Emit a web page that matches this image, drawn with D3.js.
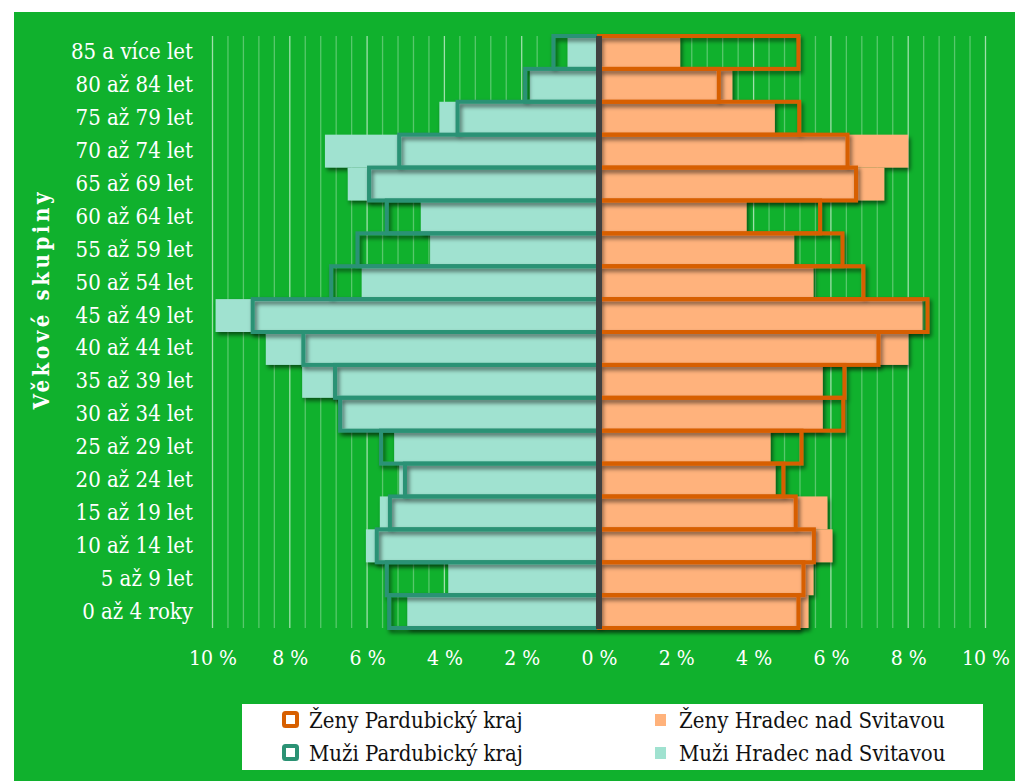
<!DOCTYPE html>
<html><head><meta charset="utf-8">
<script src="https://cdn.jsdelivr.net/npm/d3@7"></script>
<style>
body{margin:0;background:#fff}
svg{display:block}
text{font-family:"DejaVu Serif Condensed","DejaVu Serif",serif;font-stretch:condensed}
</style>
</head><body><svg id="c" width="1015" height="781"></svg>
<script>
const categories = ["85 a více let","80 až 84 let","75 až 79 let","70 až 74 let","65 až 69 let","60 až 64 let","55 až 59 let","50 až 54 let","45 až 49 let","40 až 44 let","35 až 39 let","30 až 34 let","25 až 29 let","20 až 24 let","15 až 19 let","10 až 14 let","5 až 9 let","0 až 4 roky"];
// Muži Pardubický kraj (outline)
const menPardubice   = [1.18,1.91,3.66,5.17,5.95,5.49,6.25,6.93,8.96,7.65,6.83,6.70,5.64,5.02,5.41,5.75,5.49,5.43];
// Ženy Pardubický kraj (outline)
const womenPardubice = [5.16,3.10,5.18,6.43,6.65,5.72,6.30,6.84,8.50,7.23,6.35,6.32,5.24,4.77,5.09,5.56,5.29,5.16];
// Muži Hradec nad Svitavou (fill)
const menHradec      = [0.81,1.79,4.13,7.09,6.50,4.61,4.37,6.14,9.92,8.62,7.68,6.65,5.30,5.17,5.67,6.03,3.90,4.96];
// Ženy Hradec nad Svitavou (fill)
const womenHradec    = [2.10,3.45,4.55,8.00,7.38,3.82,5.05,5.55,8.37,8.00,5.79,5.79,4.44,4.57,5.91,6.04,5.55,5.42];
const tickValues = [-10,-8,-6,-4,-2,0,2,4,6,8,10];
const legendLabels = ["Ženy Pardubický kraj","Muži Pardubický kraj","Ženy Hradec nad Svitavou","Muži Hradec nad Svitavou"];
const axisTitle = "Věkové skupiny";

const C = {bg:"#10B12D", wOut:"#D75F00", mOut:"#2B9274", wFill:"#FFB27B", mFill:"#A0E2D0", axis:"#404040"};
const FONT = '"DejaVu Serif Condensed","DejaVu Serif",serif';

const svg = d3.select("#c");
const defs = svg.append("defs");
const f = defs.append("filter").attr("id","sh").attr("x","-10%").attr("y","-30%").attr("width","130%").attr("height","180%");
f.append("feDropShadow").attr("dx",2).attr("dy",3).attr("stdDeviation",2).attr("flood-color","#000").attr("flood-opacity",0.55);

svg.append("rect").attr("x",14).attr("y",12).attr("width",1001).attr("height",769).attr("fill",C.bg);

const x = d3.scaleLinear().domain([-10,10]).range([212.5,985.5]);
const y = d3.scaleBand().domain(categories).range([36,628]).padding(0);

// grid
const minor = d3.range(-25,26).map(i=>i*0.4);
svg.append("g").selectAll("line").data(minor).join("line")
  .attr("x1",d=>x(d)).attr("x2",d=>x(d)).attr("y1",36).attr("y2",628)
  .attr("stroke","#fff").attr("stroke-width",1.3)
  .attr("stroke-opacity",d=>Math.abs(Math.round(d*10)%20)===0?0.6:0.3);

const rows = categories.map((c,i)=>({c,mP:menPardubice[i],wP:womenPardubice[i],mH:menHradec[i],wH:womenHradec[i]}));

// fill bars (Hradec)
const gF = svg.append("g").attr("filter","url(#sh)");
gF.selectAll(".mh").data(rows).join("rect").attr("class","mh")
  .attr("x",d=>x(-d.mH)).attr("width",d=>x(0)-x(-d.mH))
  .attr("y",d=>y(d.c)).attr("height",y.bandwidth()).attr("fill",C.mFill);
gF.selectAll(".wh").data(rows).join("rect").attr("class","wh")
  .attr("x",x(0)).attr("width",d=>x(d.wH)-x(0))
  .attr("y",d=>y(d.c)).attr("height",y.bandwidth()).attr("fill",C.wFill);

// outline bars (Pardubický kraj)
const gO = svg.append("g").attr("filter","url(#sh)");
gO.selectAll(".mp").data(rows).join("rect").attr("class","mp")
  .attr("x",d=>x(-d.mP)).attr("width",d=>x(0)-x(-d.mP))
  .attr("y",d=>y(d.c)).attr("height",y.bandwidth())
  .attr("fill","none").attr("stroke",C.mOut).attr("stroke-width",4);
gO.selectAll(".wp").data(rows).join("rect").attr("class","wp")
  .attr("x",x(0)).attr("width",d=>x(d.wP)-x(0))
  .attr("y",d=>y(d.c)).attr("height",y.bandwidth())
  .attr("fill","none").attr("stroke",C.wOut).attr("stroke-width",4);

// center axis line
svg.append("line").attr("x1",x(0)).attr("x2",x(0)).attr("y1",36).attr("y2",629)
  .attr("stroke",C.axis).attr("stroke-width",6);

// y labels
const ya = svg.append("g").attr("transform","translate(199,0)")
  .call(d3.axisLeft(y).tickSize(0).tickPadding(6));
ya.select(".domain").remove();
ya.selectAll("text").attr("fill","#fff").style("font-size","22px").style("font-family",FONT);

// x labels
const xa = svg.append("g").attr("transform","translate(0,628)")
  .call(d3.axisBottom(x).tickValues(tickValues).tickSize(0).tickPadding(22).tickFormat(d=>Math.abs(d)+" %"));
xa.select(".domain").remove();
xa.selectAll("text").attr("fill","#fff").style("font-size","21px").style("font-family",FONT);

// axis title
svg.append("text").attr("transform","translate(49,301) rotate(-90)")
  .attr("text-anchor","middle").attr("fill","#fff")
  .style("font-family",FONT)
  .style("font-weight","bold").style("font-size","22px")
  .attr("textLength",217).attr("lengthAdjust","spacing").text(axisTitle);

// legend
const lg = svg.append("g");
lg.append("rect").attr("x",242).attr("y",704).attr("width",741).attr("height",66).attr("fill","#fff");
const items = [
  {t:legendLabels[0],x:282,y:720,type:"out",c:C.wOut},
  {t:legendLabels[1],x:282,y:753,type:"out",c:C.mOut},
  {t:legendLabels[2],x:655,y:720,type:"fill",c:C.wFill},
  {t:legendLabels[3],x:655,y:753,type:"fill",c:C.mFill}
];
items.forEach(it=>{
  if(it.type==="out"){
    lg.append("rect").attr("x",it.x+2).attr("y",it.y-7).attr("width",13).attr("height",13).attr("rx",1.5)
      .attr("fill","#fff").attr("stroke",it.c).attr("stroke-width",4);
  } else {
    lg.append("rect").attr("x",it.x).attr("y",it.y-6).attr("width",11).attr("height",12).attr("fill",it.c);
  }
  lg.append("text").attr("x",it.type==="out"?309:679).attr("y",it.y).attr("dy","0.35em")
    .attr("fill","#111").style("font-size","22px").text(it.t);
});
</script>
</body></html>
